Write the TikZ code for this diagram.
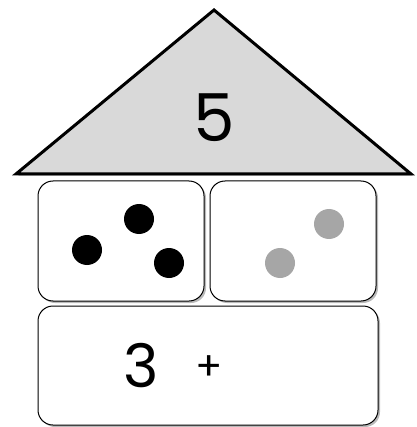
\documentclass[tikz,border=0pt]{standalone}
\usepackage{fontspec}
\setmainfont{Poppins}
\usetikzlibrary{shadows}
\begin{document}
\begin{tikzpicture}[x=1pt,y=-1pt,
  shad/.style={drop shadow={shadow xshift=2pt,shadow yshift=-2pt,opacity=0.45,fill=black!60}},
  roof/.style={draw=black,line width=3pt,fill=black!15,line join=miter,shad},
  cell/.style={draw=black,line width=1pt,fill=white,rounded corners=15pt,shad},
  bdot/.style={fill=black},
  gdot/.style={fill=black!35}]
\useasboundingbox (0,0) rectangle (416,427);
\draw[roof] (214,10) coordinate (apex) -- (16,174) coordinate (bl) -- (411,174) coordinate (br) -- cycle;
\node (five) at (214,118) {\fontsize{66}{70}\selectfont 5};
\draw[cell] (38,181) rectangle (204,301);
\draw[cell] (210,181) rectangle (376,301);
\draw[cell] (38,306) rectangle (378,425);
\fill[bdot] (87,250) circle (15);
\fill[bdot] (139,219) circle (15);
\fill[bdot] (169,263) circle (15);
\fill[gdot] (280,263) circle (15);
\fill[gdot] (329,224) circle (15);
\node (three) at (141,366) {\fontsize{60}{64}\selectfont 3};
\node (plus) at (209,368) {\fontsize{40}{44}\selectfont +};
\end{tikzpicture}
\end{document}
